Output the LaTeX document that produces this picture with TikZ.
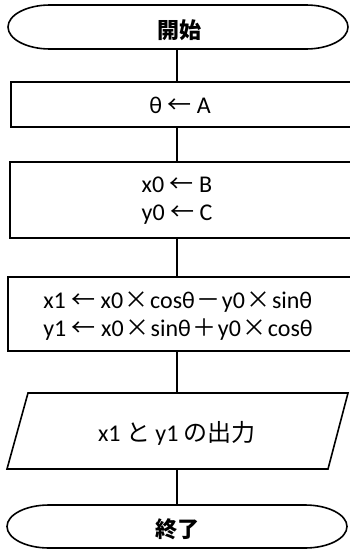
\documentclass[tikz,border=0pt]{standalone}
\usepackage{fontspec}
\setmainfont{Carlito}
\newfontfamily\cjk{Noto Sans CJK JP}
\newcommand{\myarr}{{\cjk ←}}
\newcommand{\mytimes}{\hspace{1.5pt}{\cjk ×}\hspace{1.5pt}}
\newcommand{\myminus}{\hspace{1.5pt}{\cjk －}\hspace{1.5pt}}
\newcommand{\myplus}{\hspace{1.5pt}{\cjk ＋}\hspace{1.5pt}}
\tikzset{
  shapeline/.style={draw=black, line width=1.6pt, line join=miter},
  conn/.style={draw=black, line width=1.6pt},
  txt/.style={inner sep=0pt, font=\fontsize{24}{28}\selectfont, align=left},
  ttl/.style={inner sep=0pt, font=\fontsize{22}{24}\selectfont\cjk\bfseries},
}
\begin{document}
\begin{tikzpicture}[x=1pt,y=-1pt]
\useasboundingbox (0,0) rectangle (349,549);
% start terminal
\draw[shapeline] (50,5) -- (306,5) arc[start angle=90,end angle=-90,x radius=42pt,y radius=22pt] -- (50,49) arc[start angle=270,end angle=90,x radius=42pt,y radius=22pt] -- cycle;
\coordinate (startb) at (177,49);
\node[ttl] (start) at (179,30) {開始};
% box 1
\draw[shapeline] (352,82) -- (11,82) -- (11,127) -- (352,127);
\coordinate (b1t) at (177,82);
\coordinate (b1b) at (177,127);
\node[txt] (n1) at (180,105) {θ \myarr\ A};
% box 2
\draw[shapeline] (352,162) -- (10,162) -- (10,238) -- (352,238);
\coordinate (b2t) at (177,162);
\coordinate (b2b) at (177,238);
\node[txt] (n2) at (177,201) {x0 \myarr\ B\\y0 \myarr\ C};
% box 3
\draw[shapeline] (352,277) -- (8,277) -- (8,351) -- (352,351);
\coordinate (b3t) at (177,277);
\coordinate (b3b) at (177,351);
\node[txt] (n3) at (178,316) {x1 \myarr\ x0\mytimes cosθ\myminus y0\mytimes sinθ\\y1 \myarr\ x0\mytimes sinθ\myplus y0\mytimes cosθ};
% parallelogram
\draw[shapeline] (28,393) -- (348,393) -- (328,469) -- (7,469) -- cycle;
\coordinate (pt) at (177,393);
\coordinate (pb) at (177,469);
\node[txt] (out) at (177,433) {x1 {\cjk と} y1 {\cjk の出力}};
% end terminal
\draw[shapeline] (49,505) -- (305,505) arc[start angle=90,end angle=-90,x radius=42pt,y radius=21.5pt] -- (49,548) arc[start angle=270,end angle=90,x radius=42pt,y radius=21.5pt] -- cycle;
\coordinate (endt) at (177,505);
\node[ttl] (end) at (177,529) {終了};
% connectors
\draw[conn] (startb) -- (b1t);
\draw[conn] (b1b) -- (b2t);
\draw[conn] (b2b) -- (b3t);
\draw[conn] (b3b) -- (pt);
\draw[conn] (pb) -- (endt);
\end{tikzpicture}
\end{document}
